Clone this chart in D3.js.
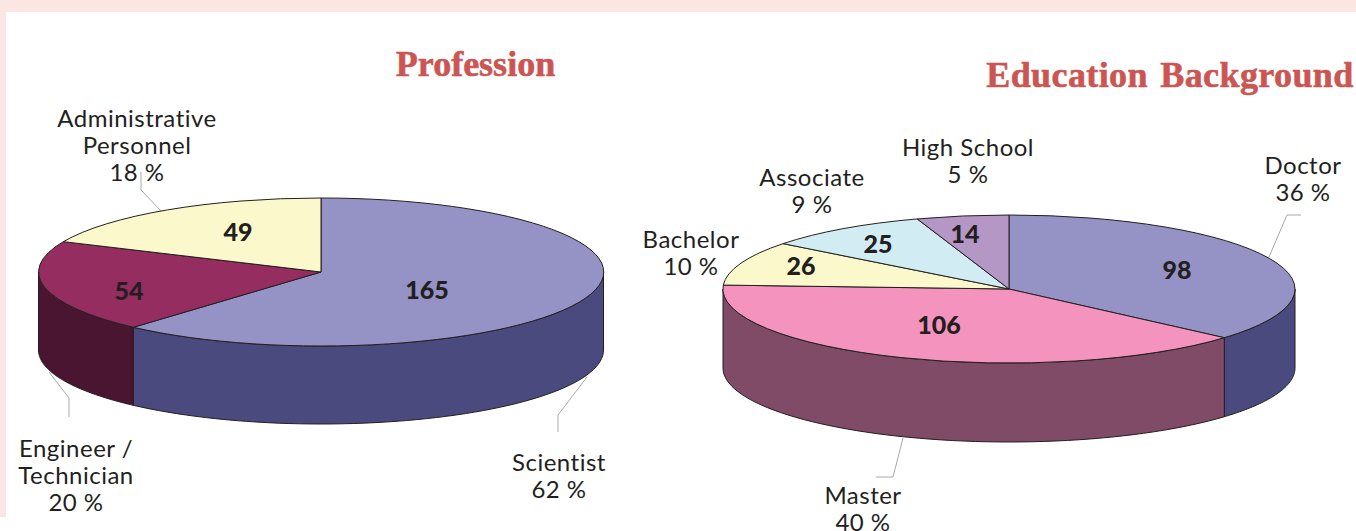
<!DOCTYPE html>
<html lang="en">
<head>
    <meta charset="UTF-8">
    <title>Profession and Education Background</title>
    <script src="https://d3js.org/d3.v7.min.js"></script>
    <style>
        body { margin: 0; padding: 0; background: #fff; overflow: hidden; }
        svg { display: block; }
        .title { font-family: "Liberation Serif", serif; font-weight: bold; font-size: 36px; fill: #cb5552; stroke: #cb5552; stroke-width: 0.6px; text-anchor: middle; }
        .label { font-family: Lato, sans-serif; font-size: 24px; letter-spacing: 0.5px; fill: #231f20; text-anchor: middle; font-variant-ligatures: none; }
        .value { font-family: Lato, sans-serif; font-weight: 900; font-size: 25px; fill: #231f20; text-anchor: middle; }
        .slice { stroke: #231f20; stroke-width: 1px; vector-effect: non-scaling-stroke; }
        .wall { stroke: #231f20; stroke-width: 1px; }
        .leader { fill: none; stroke: #a9a9a9; stroke-width: 1px; }
    </style>
</head>
<body>
<svg id="chart" width="1356" height="531"></svg>

<script>
    // Profession
    const professionNames = ["Scientist", "Engineer / Technician", "Administrative Personnel"];
    const professionValues = [165, 54, 49];
    const professionShares = ["62 %", "20 %", "18 %"];
    const professionLines = [["Scientist"], ["Engineer /", "Technician"], ["Administrative", "Personnel"]];

    // Education
    const educationNames = ["Doctor", "Master", "Bachelor", "Associate", "High School"];
    const educationValues = [98, 106, 26, 25, 14];
    const educationShares = ["36 %", "40 %", "10 %", "9 %", "5 %"];
    const educationLines = [["Doctor"], ["Master"], ["Bachelor"], ["Associate"], ["High School"]];

    // page layout, separate from the values
    const charts = [
        {
            title: "Profession", titleX: 475.5, titleY: 76, titleSpacing: 0,
            cx: 321, cy: 272, rx: 282.5, ry: 74, depth: 78,
            names: professionNames, values: professionValues, shares: professionShares, lines: professionLines,
            top: ["#9592c6", "#962d60", "#fbf8cc"],
            side: ["#4b4a7e", "#4a1530", "#8a8660"],
            valuePos: [[427, 299], [129, 300], [238, 241]],
            labelPos: [[559, 471], [76, 457], [137, 127]],
            leaders: [
                [[587, 377], [558, 415], [558, 432]],
                [[49, 372], [69, 398], [69, 417]],
                [[141, 172], [141, 190], [162, 212]]
            ]
        },
        {
            title: "Education Background", titleX: 1170, titleY: 87, titleSpacing: 0.4,
            cx: 1009, cy: 289, rx: 286, ry: 74, depth: 79,
            names: educationNames, values: educationValues, shares: educationShares, lines: educationLines,
            top: ["#9592c6", "#f493bd", "#fbf8cc", "#d2ecf4", "#b597c5"],
            side: ["#4b4a7e", "#7f4b66", "#8a8660", "#6f8a90", "#6a5578"],
            valuePos: [[1177, 279], [939, 334], [801, 275], [878, 253], [965, 243]],
            labelPos: [[1303, 174], [863, 504], [691, 248], [812, 186], [968, 156]],
            leaders: [
                [[1269, 257], [1287, 215], [1301, 215]],
                [[903, 438], [893, 477], [876, 477]]
            ]
        }
    ];

    const lineHeight = 27;
    const svg = d3.select("#chart");

    // pink page border behind the white panel
    svg.append("rect").attr("width", 1356).attr("height", 12).attr("fill", "#fbe6e4");
    svg.append("rect").attr("y", 12).attr("width", 6).attr("height", 505).attr("fill", "#fbe6e4");

    const pie = d3.pie().sort(null);
    const arc = d3.arc().innerRadius(0).outerRadius(1);

    charts.forEach(c => {
        const g = svg.append("g");
        const slices = pie(c.values);
        const px = a => c.cx + c.rx * Math.sin(a);
        const py = a => c.cy - c.ry * Math.cos(a);
        const line = d3.line();

        // leader lines go under the pie
        g.selectAll(".leader").data(c.leaders).enter().append("path")
            .attr("class", "leader")
            .attr("d", line);

        // only the front half of the rim is visible
        const front = slices
            .map((d, i) => ({ i, a0: Math.max(d.startAngle, Math.PI / 2), a1: Math.min(d.endAngle, Math.PI * 3 / 2) }))
            .filter(d => d.a1 > d.a0);

        g.selectAll(".wall").data(front).enter().append("path")
            .attr("class", "wall")
            .attr("fill", d => c.side[d.i])
            .attr("d", d => {
                const steps = d3.range(0, 61).map(k => d.a0 + (d.a1 - d.a0) * k / 60);
                const upper = steps.map(a => [px(a), py(a)]);
                const lower = steps.slice().reverse().map(a => [px(a), py(a) + c.depth]);
                return line(upper.concat(lower)) + "Z";
            });

        // top face is a plain d3 arc squashed into an ellipse
        g.append("g")
            .attr("transform", `translate(${c.cx},${c.cy}) scale(${c.rx},${c.ry})`)
            .selectAll("path").data(slices).enter().append("path")
            .attr("class", "slice")
            .attr("fill", (d, i) => c.top[i])
            .attr("d", arc);

        g.selectAll(".value").data(c.values).enter().append("text")
            .attr("class", "value")
            .attr("x", (d, i) => c.valuePos[i][0])
            .attr("y", (d, i) => c.valuePos[i][1])
            .text(d => d);

        c.names.forEach((name, i) => {
            const text = g.append("text").attr("class", "label");
            c.lines[i].concat(c.shares[i]).forEach((s, k) => {
                text.append("tspan")
                    .attr("x", c.labelPos[i][0])
                    .attr("y", c.labelPos[i][1] + k * lineHeight)
                    .text(s);
            });
        });

        g.append("text").attr("class", "title")
            .attr("x", c.titleX).attr("y", c.titleY)
            .attr("letter-spacing", c.titleSpacing)
            .attr("word-spacing", 3)
            .text(c.title);
    });
</script>
</body>
</html>
